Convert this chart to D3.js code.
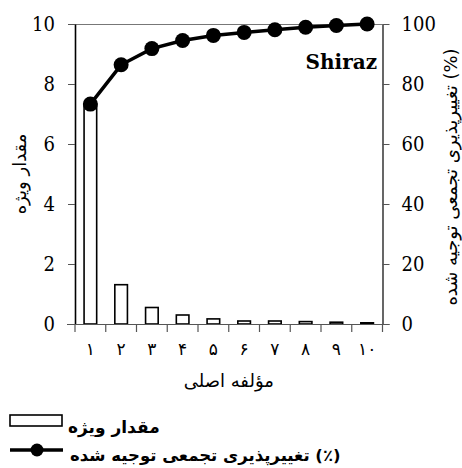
<!DOCTYPE html>
<html>
<head>
<meta charset="utf-8">
<script src="https://cdn.jsdelivr.net/npm/d3@7/dist/d3.min.js"></script>
<style>
  html, body { margin: 0; padding: 0; background: #fff; }
  svg { display: block; }
</style>
</head>
<body>
<svg id="chart" width="462" height="468"></svg>
<script>
// Principal components and their labels (Persian numerals)
const components = [1, 2, 3, 4, 5, 6, 7, 8, 9, 10];
const componentLabels = ["\u06F1", "\u06F2", "\u06F3", "\u06F4", "\u06F5",
                         "\u06F6", "\u06F7", "\u06F8", "\u06F9", "\u06F1\u06F0"];

// Eigenvalue of each component
const eigenvalues = [7.33, 1.31, 0.55, 0.30, 0.17, 0.10, 0.10, 0.08, 0.06, 0.04];

// Cumulative explained variance (%)
const cumulativeVariance = [73.3, 86.4, 91.8, 94.5, 96.2, 97.2, 98.1, 98.9, 99.5, 100];

// Axis ticks
const leftTicks = [0, 2, 4, 6, 8, 10];
const rightTicks = [0, 20, 40, 60, 80, 100];

const PERSIAN = "DejaVu Sans";
const SERIF = "DejaVu Serif";

const svg = d3.select("#chart");

const plot = { left: 75, right: 382.5, top: 24, bottom: 324 };

const x = d3.scaleBand().domain(components).range([plot.left, plot.right]).padding(0);
const yL = d3.scaleLinear().domain([0, 10]).range([plot.bottom, plot.top]);
const yR = d3.scaleLinear().domain([0, 100]).range([plot.bottom, plot.top]);

// Top frame line
svg.append("line")
  .attr("x1", plot.left - 7).attr("x2", plot.right)
  .attr("y1", plot.top + 0.5).attr("y2", plot.top + 0.5)
  .attr("stroke", "#777").attr("stroke-width", 1);

// Bars (eigenvalues)
const barW = x.bandwidth() * 0.41;
svg.append("g").selectAll("rect")
  .data(components)
  .join("rect")
  .attr("x", (d) => x(d) + (x.bandwidth() - barW) / 2)
  .attr("y", (d, i) => yL(eigenvalues[i]))
  .attr("width", barW)
  .attr("height", (d, i) => plot.bottom - yL(eigenvalues[i]))
  .attr("fill", "#fff")
  .attr("stroke", "#000")
  .attr("stroke-width", 1.6);

function styleNumbers(g) {
  g.attr("font-family", SERIF).attr("font-size", 20).attr("font-stretch", "condensed");
  g.selectAll(".tick text").attr("fill", "#000");
  g.selectAll(".tick line").attr("stroke", "#555");
}

// Left axis
const leftAxis = svg.append("g")
  .attr("transform", `translate(${plot.left},0)`)
  .call(d3.axisLeft(yL).tickValues(leftTicks).tickSize(7).tickSizeOuter(0).tickPadding(13));
leftAxis.select(".domain").attr("stroke", "#000").attr("stroke-width", 1.6);
styleNumbers(leftAxis);

// Right axis
const rightAxis = svg.append("g")
  .attr("transform", `translate(${plot.right},0)`)
  .call(d3.axisRight(yR).tickValues(rightTicks).tickSize(7).tickSizeOuter(0).tickPadding(12));
rightAxis.select(".domain").attr("stroke", "#000").attr("stroke-width", 1.2);
styleNumbers(rightAxis);

// Bottom axis: baseline, ticks at band boundaries, labels at band centers
svg.append("line")
  .attr("x1", plot.left - 8).attr("x2", plot.right + 7)
  .attr("y1", plot.bottom + 0.5).attr("y2", plot.bottom + 0.5)
  .attr("stroke", "#555").attr("stroke-width", 1.2);

const boundaries = components.map((d) => x(d)).concat([plot.right]);
svg.append("g").selectAll("line")
  .data(boundaries)
  .join("line")
  .attr("x1", (d) => d).attr("x2", (d) => d)
  .attr("y1", plot.bottom).attr("y2", plot.bottom + 8)
  .attr("stroke", "#555").attr("stroke-width", 1.2);

const bottomAxis = svg.append("g")
  .attr("transform", `translate(0,${plot.bottom})`)
  .call(d3.axisBottom(x).tickSize(0).tickPadding(19)
    .tickFormat((d) => componentLabels[components.indexOf(d)]));
bottomAxis.select(".domain").remove();
bottomAxis.attr("font-family", PERSIAN).attr("font-size", 17);
bottomAxis.selectAll(".tick text").attr("fill", "#000");

// Cumulative variance line and markers
const line = d3.line()
  .x((d, i) => x(components[i]) + x.bandwidth() / 2)
  .y((d) => yR(d));

svg.append("path")
  .datum(cumulativeVariance)
  .attr("d", line)
  .attr("fill", "none")
  .attr("stroke", "#000")
  .attr("stroke-width", 3.5);

svg.append("g").selectAll("circle")
  .data(cumulativeVariance)
  .join("circle")
  .attr("cx", (d, i) => x(components[i]) + x.bandwidth() / 2)
  .attr("cy", (d) => yR(d))
  .attr("r", 7.5)
  .attr("fill", "#000");

// Panel label
svg.append("text")
  .attr("x", 377).attr("y", 69)
  .attr("text-anchor", "end")
  .attr("font-family", SERIF)
  .attr("font-weight", "bold")
  .attr("font-size", 20)
  .text("Shiraz");

// Axis titles
svg.append("text")
  .attr("transform", `translate(26,${(plot.top + plot.bottom) / 2}) rotate(-90)`)
  .attr("text-anchor", "middle")
  .attr("font-family", PERSIAN)
  .attr("font-size", 18)
  .text("مقدار ویژه");

svg.append("text")
  .attr("transform", `translate(457,${(plot.top + plot.bottom) / 2 + 3}) rotate(-90)`)
  .attr("text-anchor", "middle")
  .attr("font-family", PERSIAN)
  .attr("font-size", 18)
  .text("تغییرپذیری تجمعی توجیه شده (%)");

svg.append("text")
  .attr("x", (plot.left + plot.right) / 2)
  .attr("y", 387)
  .attr("text-anchor", "middle")
  .attr("font-family", PERSIAN)
  .attr("font-size", 18)
  .text("مؤلفه اصلی");

// Legend
const legend = svg.append("g");
legend.append("rect")
  .attr("x", 10).attr("y", 415).attr("width", 52).attr("height", 11)
  .attr("fill", "#fff").attr("stroke", "#000").attr("stroke-width", 1.6);
legend.append("text")
  .attr("x", 68).attr("y", 433)
  .attr("font-family", PERSIAN)
  .attr("font-size", 17).attr("font-weight", "bold")
  .text("مقدار ویژه");

legend.append("line")
  .attr("x1", 10).attr("x2", 63).attr("y1", 450).attr("y2", 450)
  .attr("stroke", "#000").attr("stroke-width", 3.5);
legend.append("circle")
  .attr("cx", 37).attr("cy", 450).attr("r", 6.5).attr("fill", "#000");
legend.append("text")
  .attr("x", 70).attr("y", 461)
  .attr("font-family", PERSIAN)
  .attr("font-size", 16.5).attr("font-weight", "bold")
  .text("تغییرپذیری تجمعی توجیه شده (٪)");
</script>
</body>
</html>
